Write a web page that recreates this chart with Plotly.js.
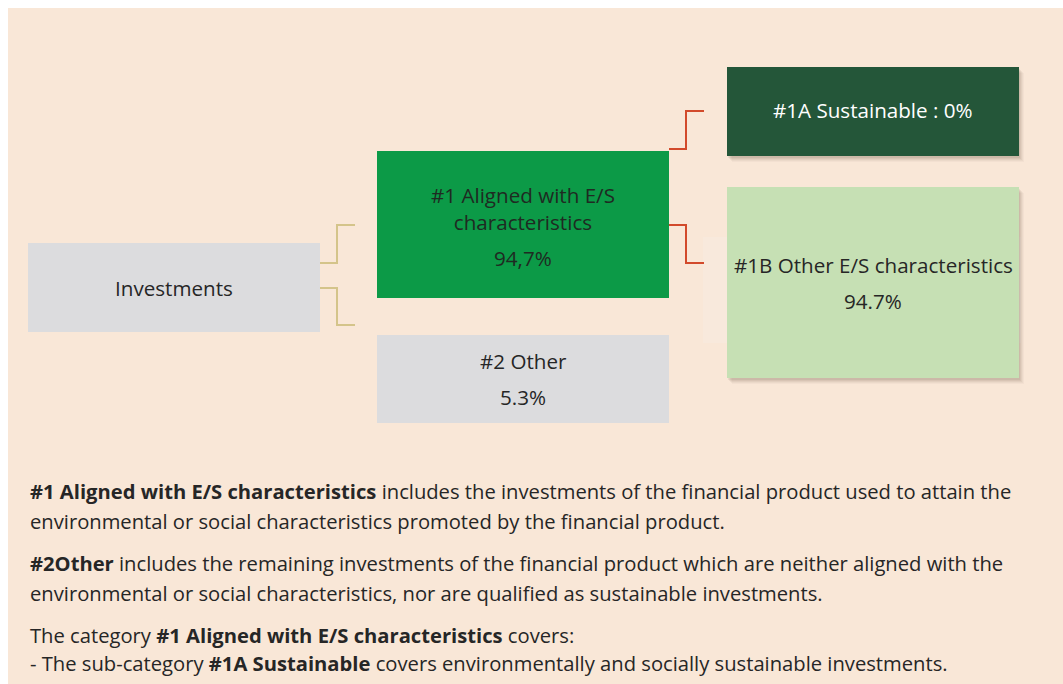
<!DOCTYPE html>
<html>
<head>
<meta charset="utf-8">
<script src="https://cdn.plot.ly/plotly-3.0.1.min.js"></script>
<style>html,body{margin:0;padding:0;background:#fff;}#chart{width:1063px;height:684px;}</style>
</head>
<body>
<div id="chart"></div>
<script>
// ---- data ----
const nodeIds = ['inv', 'n1', 'n2', 'n1a', 'n1b'];
const nodeTitles = ['Investments', '#1 Aligned with E/S<br>characteristics', '#2 Other', '#1A Sustainable', '#1B Other E/S characteristics'];
const nodeValues = ['', '94,7%', '5.3%', '0%', '94.7%'];
const noteLines = [
  '<b>#1 Aligned with E/S characteristics</b> includes the investments of the financial product used to attain the',
  'environmental or social characteristics promoted by the financial product.',
  '<b>#2Other</b> includes the remaining investments of the financial product which are neither aligned with the',
  'environmental or social characteristics, nor are qualified as sustainable investments.',
  'The category <b>#1 Aligned with E/S characteristics</b> covers:',
  '- The sub-category <b>#1A Sustainable</b> covers environmentally and socially sustainable investments.'
];

// ---- layout geometry (pixel space) ----
const boxes = {
  inv: {x0: 28, x1: 320, y0: 243, y1: 332, fill: '#dcdcde', color: '#262626', shadow: false},
  n1:  {x0: 377, x1: 669, y0: 151, y1: 298, fill: '#0c9a47', color: '#1f2a22', shadow: false},
  n2:  {x0: 377, x1: 669, y0: 335, y1: 423, fill: '#dcdcde', color: '#262626', shadow: false},
  n1a: {x0: 727, x1: 1019, y0: 67, y1: 156, fill: '#245639', color: '#ffffff', shadow: true},
  n1b: {x0: 727, x1: 1019, y0: 187, y1: 378, fill: '#c6e0b4', color: '#262626', shadow: true}
};
const textPos = {
  inv: {title: 288, value: null},
  n1: {title: 208, value: 258},
  n2: {title: 361, value: 397},
  n1a: {title: 110, value: null},
  n1b: {title: 265, value: 301}
};
const noteY = [491, 521, 563, 593, 635, 663];
const FONT = 'Open Sans, Noto Sans, sans-serif';
const FS_BOX = 20.6;
const FS_NOTE = 20.2;

const shapes = [];
// background panel
shapes.push({type: 'rect', xref: 'x', yref: 'y', x0: 8, x1: 1063, y0: 8, y1: 684, fillcolor: '#f9e7d7', line: {width: 0}, layer: 'below'});
// faint artifact behind #1B
shapes.push({type: 'rect', xref: 'x', yref: 'y', x0: 703, x1: 1021, y0: 237, y1: 343, fillcolor: '#f8e9dc', line: {width: 0}, layer: 'below'});

nodeIds.forEach(id => {
  const b = boxes[id];
  if (b.shadow) {
    [[6, 0.03], [5, 0.04], [4, 0.05], [3, 0.06], [2, 0.07]].forEach(([o, a]) => {
      shapes.push({type: 'rect', xref: 'x', yref: 'y', x0: b.x0 + o - 1, x1: b.x1 + o - 1, y0: b.y0 + o, y1: b.y1 + o,
        fillcolor: 'rgba(60,40,20,' + a + ')', line: {width: 0}, layer: 'below'});
    });
  }
  shapes.push({type: 'rect', xref: 'x', yref: 'y', x0: b.x0, x1: b.x1, y0: b.y0, y1: b.y1, fillcolor: b.fill, line: {width: 0}, layer: 'below'});
});

// connectors
const tan = '#d4c48a', red = '#d24a2b';
shapes.push({type: 'path', xref: 'x', yref: 'y', path: 'M320,263 H337 V225 H355', line: {color: tan, width: 2}});
shapes.push({type: 'path', xref: 'x', yref: 'y', path: 'M320,288 H337 V325 H355', line: {color: tan, width: 2}});
shapes.push({type: 'path', xref: 'x', yref: 'y', path: 'M669,149 H686 V111 H704', line: {color: red, width: 2}});
shapes.push({type: 'path', xref: 'x', yref: 'y', path: 'M669,225 H686 V263 H704', line: {color: red, width: 2}});

const annotations = [];
nodeIds.forEach((id, i) => {
  const b = boxes[id];
  const cx = (b.x0 + b.x1) / 2;
  let title = nodeTitles[i];
  if (id === 'n1a') title = nodeTitles[i] + ' : ' + nodeValues[i];
  annotations.push({x: cx, y: textPos[id].title, xref: 'x', yref: 'y', text: title, showarrow: false,
    xanchor: 'center', yanchor: 'middle', align: 'center', font: {family: FONT, size: FS_BOX, color: b.color}});
  if (textPos[id].value !== null && nodeValues[i] !== '') {
    annotations.push({x: cx, y: textPos[id].value, xref: 'x', yref: 'y', text: nodeValues[i], showarrow: false,
      xanchor: 'center', yanchor: 'middle', font: {family: FONT, size: FS_BOX, color: b.color}});
  }
});
noteLines.forEach((t, i) => {
  annotations.push({x: 28, y: noteY[i], xref: 'x', yref: 'y', text: t, showarrow: false,
    xanchor: 'left', yanchor: 'middle', align: 'left', font: {family: FONT, size: FS_NOTE, color: '#262626'}});
});

const layout = {
  width: 1063, height: 684,
  margin: {l: 0, r: 0, t: 0, b: 0},
  paper_bgcolor: '#ffffff', plot_bgcolor: 'rgba(0,0,0,0)',
  xaxis: {range: [0, 1063], visible: false, fixedrange: true},
  yaxis: {range: [684, 0], visible: false, fixedrange: true},
  shapes: shapes,
  annotations: annotations,
  showlegend: false
};
Plotly.newPlot('chart', [{x: [], y: [], type: 'scatter', hoverinfo: 'skip'}], layout, {displayModeBar: false, staticPlot: true});
</script>
</body>
</html>
